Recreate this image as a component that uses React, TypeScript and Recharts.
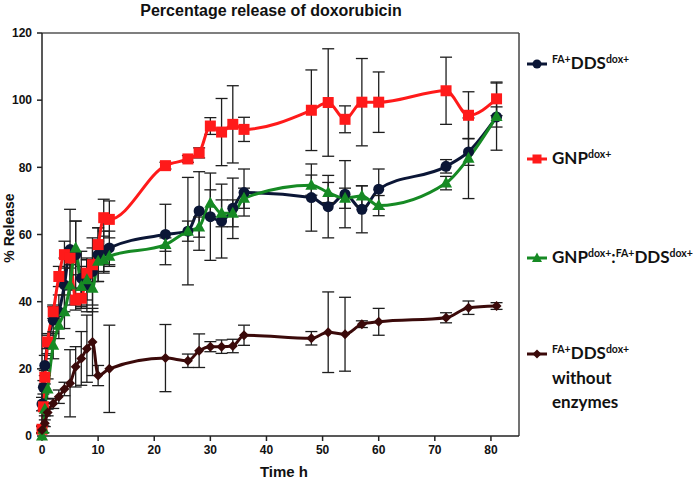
import React from 'react';
import { LineChart, Line, XAxis, YAxis, ErrorBar, ReferenceLine } from 'recharts';

const NAVY = '#0b1636';
const RED = '#ff1a1a';
const GREEN = '#168a24';
const BROWN = '#3b0a0a';
const ERR = '#1e1e1e';

const xTicks = [0, 10, 20, 30, 40, 50, 60, 70, 80];
const yTicks = [0, 20, 40, 60, 80, 100, 120];

const navyT = [0, 0.25, 0.5, 1, 2, 3, 4, 5, 6, 7, 8, 9, 10, 11, 12, 22, 26, 28, 30, 32, 34, 36, 48, 51, 54, 57, 60, 72, 76, 81];
const navyV = [9.5, 14.5, 21, 27.5, 34.5, 37, 45, 55.5, 54, 47, 45, 49, 54, 55, 56, 60, 61, 67, 65.3, 64, 67.8, 72.5, 71, 68.3, 72, 67.5, 73.5, 80.3, 84.6, 95];
const navyE = [2, 2, 3, 3, 4, 5, 8, 12, 10, 8, 8, 10, 8, 6, 5, 9, 16, 11.7, 13, 11, 9, 7, 10, 9.3, 10, 7, 6, 2, 4, 3];

const redT = [0, 0.25, 0.5, 1, 2, 3, 4, 5, 6, 7, 8, 9, 10, 11, 12, 22, 26, 28, 30, 32, 34, 36, 48, 51, 54, 57, 60, 72, 76, 81];
const redV = [2, 8.7, 17.5, 28, 37, 47.5, 54, 53, 40.5, 41, 48.5, 51, 57, 65, 64.5, 80.5, 82.5, 84.3, 92.3, 90.5, 92.8, 91.3, 97, 99.3, 94.3, 99.4, 99.4, 102.8, 95.5, 100.4];
const redE = [1, 1, 2, 2, 2, 3, 4, 3, 3, 3, 4, 5, 5, 5.5, 5.5, 1, 1, 1.5, 2.5, 10, 11.5, 3.6, 12, 16, 4, 13, 9, 10, 7, 5];

const greenT = [0, 0.25, 0.5, 1, 2, 3, 4, 5, 6, 7, 8, 9, 10, 11, 12, 22, 26, 28, 30, 32, 34, 36, 48, 51, 54, 57, 60, 72, 76, 81];
const greenV = [0, 2, 8, 14, 27, 33, 37, 45, 56, 44.5, 46.5, 44, 52, 52.5, 53.5, 57, 61, 62.2, 69.3, 66.3, 66.3, 70.8, 74.7, 72.5, 70.8, 71.5, 68.6, 75.3, 82.7, 95.1];
const greenE = [0, 1, 2, 3, 4, 4, 5, 6, 8, 6, 6, 7, 6, 4, 3, 2, 3, 3, 4, 4, 4, 3, 3, 3, 3, 3, 3, 2, 12, 10];

const brownT = [0, 0.5, 1, 2, 3, 4, 5, 6, 7, 8, 9, 10, 12, 22, 26, 28, 30, 32, 34, 36, 48, 51, 54, 57, 60, 72, 76, 81];
const brownV = [1.8, 3.8, 7, 9.7, 11.7, 14, 15.7, 20.6, 23.1, 26, 28, 18, 20, 23.2, 22.4, 25.4, 26.6, 26.6, 26.8, 30, 29.1, 30.9, 30.3, 33.3, 34, 35.2, 38.2, 38.7];
const brownE = [1, 1, 1, 1.5, 2, 2, 10, 6, 8, 10, 10, 3, 13, 10, 2, 5, 1.5, 2, 2, 3, 2, 12, 11, 1, 4, 1.5, 2, 1];

const build = (t: number[], v: number[], e: number[]) => t.map((x, i) => ({ t: x, v: v[i], e: e[i] }));

const navyData = build(navyT, navyV, navyE);
const redData = build(redT, redV, redE);
const greenData = build(greenT, greenV, greenE);
const brownData = build(brownT, brownV, brownE);

const ok = (p: any) => p && typeof p.cx === 'number' && typeof p.cy === 'number' && !isNaN(p.cy);

const circleDot = (p: any) =>
  ok(p) ? <circle key={`c${p.index}`} cx={p.cx} cy={p.cy} r={5.5} fill={NAVY} /> : <g key={`c${p.index}`} />;
const squareDot = (p: any) =>
  ok(p) ? <rect key={`s${p.index}`} x={p.cx - 5.5} y={p.cy - 5.5} width={11} height={11} fill={RED} /> : <g key={`s${p.index}`} />;
const triDot = (p: any) =>
  ok(p) ? (
    <polygon key={`t${p.index}`} points={`${p.cx},${p.cy - 6.5} ${p.cx + 6},${p.cy + 4.5} ${p.cx - 6},${p.cy + 4.5}`} fill={GREEN} />
  ) : (
    <g key={`t${p.index}`} />
  );
const diaDot = (p: any) =>
  ok(p) ? (
    <polygon key={`d${p.index}`} points={`${p.cx},${p.cy - 5} ${p.cx + 5},${p.cy} ${p.cx},${p.cy + 5} ${p.cx - 5},${p.cy}`} fill={BROWN} />
  ) : (
    <g key={`d${p.index}`} />
  );

const tickStyle = { fontFamily: 'Liberation Sans, Arial, sans-serif', fontWeight: 700, fontSize: 12, fill: '#111' };

const legendFont = 'Lato, "Open Sans", sans-serif';
const Sup = ({ children }: { children: React.ReactNode }) => (
  <span style={{ fontSize: 10.5, position: 'relative', top: -6 }}>{children}</span>
);

const LegendMarker = ({ color, shape }: { color: string; shape: string }) => (
  <svg width={22} height={14} style={{ display: 'block', flex: 'none' }}>
    <line x1={1} y1={7} x2={21} y2={7} stroke={color} strokeWidth={3} />
    {shape === 'circle' && <circle cx={11} cy={7} r={4.5} fill={color} />}
    {shape === 'square' && <rect x={6.5} y={2.5} width={9} height={9} fill={color} />}
    {shape === 'tri' && <polygon points="11,1.5 16,11 6,11" fill={color} />}
    {shape === 'dia' && <polygon points="11,2.5 15.5,7 11,11.5 6.5,7" fill={color} />}
  </svg>
);

const rowStyle = (top: number): React.CSSProperties => ({
  position: 'absolute',
  left: 526,
  top,
  display: 'flex',
  alignItems: 'center',
  fontFamily: legendFont,
  fontWeight: 700,
  fontSize: 17,
  color: '#111',
  whiteSpace: 'nowrap',
  lineHeight: '20px',
});

export default function App() {
  return (
    <div style={{ position: 'absolute', left: 0, top: 0, width: 700, height: 484, background: '#fff' }}>
      <LineChart width={700} height={484} data={navyData} margin={{ top: 33, right: 181, bottom: 0, left: 0 }}>
        <XAxis
          dataKey="t"
          type="number"
          domain={[0, 85]}
          ticks={xTicks}
          tick={tickStyle}
          tickSize={5}
          tickMargin={4}
          height={48}
          axisLine={{ stroke: '#222', strokeWidth: 1.5 }}
          tickLine={{ stroke: '#222', strokeWidth: 1.5 }}
          allowDuplicatedCategory={false}
        />
        <YAxis
          type="number"
          domain={[0, 120]}
          ticks={yTicks}
          tick={tickStyle}
          tickSize={5}
          tickMargin={5}
          width={42}
          axisLine={{ stroke: '#222', strokeWidth: 1.5 }}
          tickLine={{ stroke: '#222', strokeWidth: 1.5 }}
        />
        <ReferenceLine y={120} stroke="#555" strokeWidth={1.5} />
        <ReferenceLine x={85} stroke="#444" strokeWidth={1.5} />
        <Line data={navyData} dataKey="v" type="monotone" stroke={NAVY} strokeWidth={3} dot={circleDot} activeDot={false} isAnimationActive={false}>
          <ErrorBar dataKey="e" direction="y" width={6} stroke={ERR} strokeWidth={1.3} />
        </Line>
        <Line data={redData} dataKey="v" type="monotone" stroke={RED} strokeWidth={3} dot={squareDot} activeDot={false} isAnimationActive={false}>
          <ErrorBar dataKey="e" direction="y" width={6} stroke={ERR} strokeWidth={1.3} />
        </Line>
        <Line data={greenData} dataKey="v" type="monotone" stroke={GREEN} strokeWidth={3} dot={triDot} activeDot={false} isAnimationActive={false}>
          <ErrorBar dataKey="e" direction="y" width={6} stroke={ERR} strokeWidth={1.3} />
        </Line>
        <Line data={brownData} dataKey="v" type="monotone" stroke={BROWN} strokeWidth={3} dot={diaDot} activeDot={false} isAnimationActive={false}>
          <ErrorBar dataKey="e" direction="y" width={6} stroke={ERR} strokeWidth={1.3} />
        </Line>
      </LineChart>

      <div
        style={{
          position: 'absolute',
          left: 0,
          width: 542,
          top: 2,
          textAlign: 'center',
          fontFamily: 'Liberation Sans, Arial, sans-serif',
          fontWeight: 700,
          fontSize: 16,
          color: '#111',
        }}
      >
        Percentage release of doxorubicin
      </div>
      <div
        style={{
          position: 'absolute',
          left: 9,
          top: 228,
          transform: 'translate(-50%, -50%) rotate(-90deg)',
          fontFamily: 'Liberation Sans, Arial, sans-serif',
          fontWeight: 700,
          fontSize: 14,
          color: '#111',
          whiteSpace: 'nowrap',
        }}
      >
        % Release
      </div>
      <div
        style={{
          position: 'absolute',
          left: 284,
          top: 471,
          transform: 'translate(-50%, -50%)',
          fontFamily: 'Liberation Sans, Arial, sans-serif',
          fontWeight: 700,
          fontSize: 15,
          color: '#111',
          whiteSpace: 'nowrap',
        }}
      >
        Time h
      </div>

      <div style={rowStyle(53)}>
        <LegendMarker color={NAVY} shape="circle" />
        <span style={{ marginLeft: 4 }}>
          <Sup>FA+</Sup>DDS<Sup>dox+</Sup>
        </span>
      </div>
      <div style={rowStyle(148)}>
        <LegendMarker color={RED} shape="square" />
        <span style={{ marginLeft: 4 }}>
          GNP<Sup>dox+</Sup>
        </span>
      </div>
      <div style={rowStyle(247)}>
        <LegendMarker color={GREEN} shape="tri" />
        <span style={{ marginLeft: 4 }}>
          GNP<Sup>dox+</Sup>:<Sup>FA+</Sup>DDS<Sup>dox+</Sup>
        </span>
      </div>
      <div style={rowStyle(343)}>
        <LegendMarker color={BROWN} shape="dia" />
        <span style={{ marginLeft: 4 }}>
          <Sup>FA+</Sup>DDS<Sup>dox+</Sup>
        </span>
      </div>
      <div style={{ ...rowStyle(368), left: 552 }}>without</div>
      <div style={{ ...rowStyle(392), left: 552 }}>enzymes</div>
    </div>
  );
}
